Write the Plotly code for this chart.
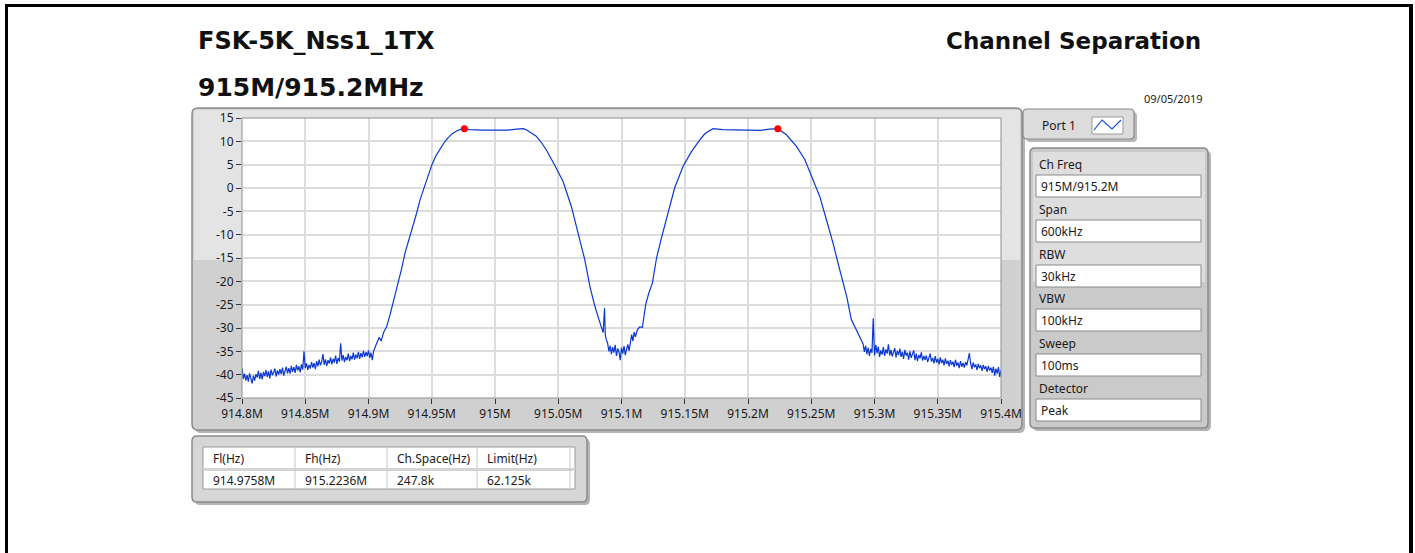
import plotly.graph_objects as go

# ---------------- data ----------------
NOISE_STEP_MHZ = 0.001

LEFT_NOISE_START = 914.800
LEFT_NOISE_LEVEL = [
    -38.6, -40.9, -39.8, -41.2, -40.1, -41.5, -39.7, -40.8, -41.9, -40.2,
    -41.3, -39.9, -40.6, -39.2, -40.9, -39.6, -41.0, -39.4, -40.3, -39.0,
    -40.5, -39.3, -40.8, -38.9, -40.1, -39.5, -38.7, -40.4, -39.1, -40.0,
    -38.8, -39.9, -38.5, -40.2, -39.0, -38.3, -39.7, -38.6, -39.8, -38.1,
    -39.4, -38.4, -39.6, -37.9, -39.1, -38.2, -39.5, -37.8, -38.9, -35.0,
    -38.6, -37.6, -39.0, -37.9, -38.7, -37.3, -38.5, -37.5, -38.8, -37.1,
    -38.2, -36.8, -38.0, -37.2, -35.6, -37.9, -36.7, -38.1, -36.9, -37.6,
    -36.3, -37.8, -36.6, -37.4, -35.9, -37.7, -36.4, -37.2, -33.3, -37.0,
    -35.8, -37.3, -36.2, -36.9, -35.5, -37.1, -36.0, -36.7, -35.3, -36.8,
    -35.7, -36.5, -35.1, -36.6, -35.4, -36.3, -34.9, -36.2, -35.2, -36.0,
    -34.8, -36.4, -35.3, -36.9, -35.0, -34.2]

CH1_FREQ = [914.906, 914.9085, 914.910, 914.912, 914.9144, 914.917, 914.920,
            914.9236, 914.9262, 914.9289, 914.9315, 914.934, 914.9375, 914.9408,
            914.946, 914.950, 914.9535, 914.9566, 914.960, 914.963, 914.966,
            914.9696, 914.9727, 914.9758, 914.980, 914.990, 915.000, 915.010,
            915.017, 915.0225, 915.0247, 915.0286, 915.0326, 915.0365, 915.0405,
            915.047, 915.0538, 915.0603, 915.0658, 915.071, 915.075, 915.079,
            915.083, 915.0855, 915.0866, 915.0872, 915.088]
CH1_LEVEL = [-33.6, -32.0, -32.8, -30.9, -29.7, -27.2, -24.1,
             -20.4, -17.3, -13.9, -11.6, -8.9, -5.9, -2.5,
             1.8, 4.9, 7.0, 8.4, 9.8, 10.8, 11.6,
             12.2, 12.55, 12.7, 12.5, 12.4, 12.45, 12.4,
             12.6, 12.7, 12.5, 11.9, 11.1, 9.8, 8.2,
             5.0, 1.4, -3.9, -9.6, -15.4, -21.1, -25.4,
             -28.9, -31.0, -25.7, -31.6, -32.5]

MID_NOISE_START = 915.089
MID_NOISE_LEVEL = [-33.2, -35.0, -33.8, -35.6, -34.1, -35.3, -33.6, -36.0,
                   -34.4, -35.1, -36.9, -34.2, -35.5, -33.9, -35.8, -34.6,
                   -33.5, -34.9, -33.1, -31.4, -32.8, -30.9, -31.9]

CH2_FREQ = [915.1125, 915.1145, 915.1165, 915.1191, 915.1215, 915.1244, 915.1277,
            915.1316, 915.1369, 915.142, 915.1486, 915.1553, 915.1619, 915.1652,
            915.1684, 915.1705, 915.1724, 915.180, 915.190, 915.200, 915.210,
            915.217, 915.2236, 915.2304, 915.2383, 915.2449, 915.2515, 915.2567,
            915.262, 915.2672, 915.2725, 915.278, 915.2817, 915.2857, 915.288,
            915.2905]
CH2_LEVEL = [-30.4, -29.7, -29.9, -25.0, -22.6, -20.4, -15.0,
             -10.7, -5.0, 0.0, 4.6, 7.8, 10.3, 11.4,
             12.1, 12.5, 12.7, 12.5, 12.4, 12.4, 12.35,
             12.6, 12.7, 11.4, 8.9, 6.1, 1.8, -1.8,
             -6.8, -11.8, -17.5, -23.2, -28.2, -30.4, -31.9,
             -33.2]

RIGHT_NOISE_START = 915.291
RIGHT_NOISE_LEVEL = [
    -33.4, -35.1, -33.8, -35.6, -34.2, -36.0, -34.5, -35.3, -27.9, -35.9,
    -33.6, -35.4, -34.0, -36.2, -34.8, -35.7, -34.1, -36.0, -34.6, -35.5,
    -33.5, -35.9, -34.7, -36.1, -35.0, -34.3, -36.3, -34.9, -35.8, -34.4,
    -36.2, -35.1, -36.6, -34.7, -35.9, -35.3, -36.8, -35.0, -36.4, -35.6,
    -34.8, -36.9, -35.5, -37.1, -35.8, -36.5, -35.2, -37.0, -36.0, -36.8,
    -35.9, -37.3, -36.2, -35.5, -37.2, -36.4, -37.6, -36.0, -37.4, -36.6,
    -37.8, -36.3, -37.5, -36.8, -38.0, -36.5, -37.7, -37.0, -38.2, -36.9,
    -37.9, -37.2, -38.4, -36.8, -38.1, -37.4, -38.6, -37.1, -38.3, -37.5,
    -38.5, -37.3, -38.0, -36.6, -35.4, -37.6, -38.8, -37.4, -38.4, -37.8,
    -39.0, -37.7, -38.6, -38.0, -39.2, -37.9, -38.8, -38.2, -39.4, -38.1,
    -39.1, -38.5, -39.6, -38.3, -40.2, -38.7, -39.8, -38.4, -40.5, -39.0]

PEAK_FREQ = [914.9758, 915.2236]
PEAK_LEVEL = [12.7, 12.7]

X_TICKS = [914.8, 914.85, 914.9, 914.95, 915.0, 915.05, 915.1, 915.15,
           915.2, 915.25, 915.3, 915.35, 915.4]
X_TICK_TEXT = ["914.8M", "914.85M", "914.9M", "914.95M", "915M", "915.05M",
               "915.1M", "915.15M", "915.2M", "915.25M", "915.3M", "915.35M",
               "915.4M"]
Y_TICKS = [-45, -40, -35, -30, -25, -20, -15, -10, -5, 0, 5, 10, 15]
Y_TICK_TEXT = ["-45", "-40", "-35", "-30", "-25", "-20", "-15", "-10", "-5",
               "0", "5", "10", "15"]

TITLE = "FSK-5K_Nss1_1TX"
SUBTITLE = "915M/915.2MHz"
TEST_NAME = "Channel Separation"
DATE = "09/05/2019"
PORT = "Port 1"
PARAM_NAMES = ["Ch Freq", "Span", "RBW", "VBW", "Sweep", "Detector"]
PARAM_VALUES = ["915M/915.2M", "600kHz", "30kHz", "100kHz", "100ms", "Peak"]
TABLE_HEADERS = ["Fl(Hz)", "Fh(Hz)", "Ch.Space(Hz)", "Limit(Hz)"]
TABLE_VALUES = ["914.9758M", "915.2236M", "247.8k", "62.125k"]


def grid(start, n):
    return [round(start + NOISE_STEP_MHZ * i, 4) for i in range(n)]


freq = (grid(LEFT_NOISE_START, len(LEFT_NOISE_LEVEL)) + CH1_FREQ
        + grid(MID_NOISE_START, len(MID_NOISE_LEVEL)) + CH2_FREQ
        + grid(RIGHT_NOISE_START, len(RIGHT_NOISE_LEVEL)))
level = (LEFT_NOISE_LEVEL + CH1_LEVEL + MID_NOISE_LEVEL + CH2_LEVEL
         + RIGHT_NOISE_LEVEL)

# ---------------- layout helpers (pixel -> paper) ----------------
W, H = 1415, 553
PL, PR, PT, PB = 242, 1001, 118, 398


def px(x):
    return (x - PL) / (PR - PL)


def py(y):
    return (PB - y) / (PB - PT)


shapes = []


def rect(x0, y0, x1, y1, fill=None, line=None, lw=1, layer="below"):
    shapes.append(dict(type="rect", xref="paper", yref="paper",
                       x0=px(x0), x1=px(x1), y0=py(y1), y1=py(y0),
                       fillcolor=fill or "rgba(0,0,0,0)",
                       line=dict(color=line or "rgba(0,0,0,0)", width=lw if line else 0),
                       layer=layer))


def rrect(x0, y0, x1, y1, r, fill, line=None, lw=1, layer="below"):
    p = (f"M {px(x0 + r)},{py(y0)} L {px(x1 - r)},{py(y0)} "
         f"Q {px(x1)},{py(y0)} {px(x1)},{py(y0 + r)} L {px(x1)},{py(y1 - r)} "
         f"Q {px(x1)},{py(y1)} {px(x1 - r)},{py(y1)} L {px(x0 + r)},{py(y1)} "
         f"Q {px(x0)},{py(y1)} {px(x0)},{py(y1 - r)} L {px(x0)},{py(y0 + r)} "
         f"Q {px(x0)},{py(y0)} {px(x0 + r)},{py(y0)} Z")
    shapes.append(dict(type="path", xref="paper", yref="paper", path=p,
                       fillcolor=fill,
                       line=dict(color=line or "rgba(0,0,0,0)", width=lw if line else 0),
                       layer=layer))


annotations = []
SMALL = "Noto Sans"


def text(x, y, s, size=12, anchor="left", family=SMALL, color="#1a1a1a", bold=False):
    annotations.append(dict(xref="paper", yref="paper", x=px(x), y=py(y),
                            text=f"<b>{s}</b>" if bold else s, showarrow=False,
                            xanchor=anchor, yanchor="middle",
                            font=dict(family=family, size=size, color=color)))


# outer black frame
rect(5, 4, 1413, 7, fill="black")
rect(5, 4, 8, 553, fill="black")
rect(1409, 4, 1413, 553, fill="black")

# graph panel
rrect(195, 111, 1025, 433, 6, "#b4b4b4")
rrect(192, 108, 1022, 430, 6, "#d0d0d0", line="#8a8a8a", lw=1.5)
rect(194, 110, 1020, 260, fill="#e4e4e4")
rect(PL, PT, PR, PB, fill="white")

# port box
rrect(1026, 112, 1137, 142, 4, "#b8b8b8")
rrect(1023, 109, 1134, 139, 4, "#dcdcdc", line="#8a8a8a", lw=1.2)
rect(1092, 117, 1123, 134, fill="white", line="#9a9a9a", lw=1)
shapes.append(dict(type="path", xref="paper", yref="paper",
                   path=(f"M {px(1094)},{py(130)} L {px(1102)},{py(120)} "
                         f"L {px(1112)},{py(129)} L {px(1121)},{py(120)}"),
                   line=dict(color="#1d4fd8", width=1.2), layer="above"))

# parameter panel
rrect(1033, 151, 1211, 431, 5, "#b4b4b4")
rrect(1030, 148, 1208, 428, 5, "#cacaca", line="#8a8a8a", lw=1.5)
rect(1033, 152, 1205, 282, fill="#dedede")
row_label_y = [164, 209, 254, 298, 343, 388]
row_box = [(175, 197), (220, 242), (265, 287), (309, 331), (354, 376), (399, 421)]
for name, val, ly, (b0, b1) in zip(PARAM_NAMES, PARAM_VALUES, row_label_y, row_box):
    rect(1036, b0, 1201, b1, fill="white", line="#8a8a8a", lw=1)
    text(1037, ly, name)
    text(1039, (b0 + b1) / 2, val)

# results table
rrect(195, 439, 590, 505, 5, "#b4b4b4")
rrect(192, 436, 587, 502, 5, "#d6d6d6", line="#8a8a8a", lw=1.5)
rect(203, 447, 575, 489, fill="white", line="#9a9a9a", lw=1)
rect(203, 468, 575, 471, fill="#d4d4d4")
col_x = [203, 295, 387, 477, 570]
for cx in col_x[1:]:
    shapes.append(dict(type="line", xref="paper", yref="paper",
                       x0=px(cx), x1=px(cx), y0=py(447), y1=py(489),
                       line=dict(color="#c8c8c8", width=1), layer="below"))
for cx, hdr, val in zip(col_x, TABLE_HEADERS, TABLE_VALUES):
    text(cx + 8, 458, hdr)
    text(cx + 8, 480, val)

# plot area border (above)
rect(PL, PT, PR, PB, line="#8f8f8f", lw=1, layer="above")

# titles
TITLE_FONT = "DejaVu Sans"
text(196, 41, TITLE, size=24, family=TITLE_FONT, color="#111111", bold=True)
text(196, 88, SUBTITLE, size=25, family=TITLE_FONT, color="#111111", bold=True)
text(1203, 41, TEST_NAME, size=23, anchor="right", family=TITLE_FONT,
     color="#111111", bold=True)
text(1205, 98, DATE, size=11, anchor="right")
text(1040, 125, PORT)

# ---------------- figure ----------------
fig = go.Figure()
fig.add_trace(go.Scatter(x=freq, y=level, mode="lines",
                         line=dict(color="#0a38d0", width=1.2),
                         hoverinfo="skip", showlegend=False))
fig.add_trace(go.Scatter(x=PEAK_FREQ, y=PEAK_LEVEL, mode="markers",
                         marker=dict(color="#ff0000", size=7),
                         hoverinfo="skip", showlegend=False))

axis_common = dict(showgrid=True, gridcolor="#dcdcdc", gridwidth=1.5,
                   zeroline=False, showline=False, ticks="outside", ticklen=5,
                   tickcolor="#333333", tickwidth=1,
                   tickfont=dict(family=SMALL, size=12, color="#1a1a1a"),
                   fixedrange=True)
fig.update_xaxes(range=[914.8, 915.4], tickmode="array", tickvals=X_TICKS,
                 ticktext=X_TICK_TEXT, **axis_common)
fig.update_yaxes(range=[-45, 15], tickmode="array", tickvals=Y_TICKS,
                 ticktext=Y_TICK_TEXT, **axis_common)

fig.update_layout(width=W, height=H, autosize=False,
                  margin=dict(l=PL, r=W - PR, t=PT, b=H - PB, pad=0),
                  paper_bgcolor="white", plot_bgcolor="white",
                  shapes=shapes, annotations=annotations, showlegend=False)

fig.write_html("out.html", config={"displayModeBar": False},
               post_script="document.body.style.margin='0';document.body.style.overflow='hidden';")
